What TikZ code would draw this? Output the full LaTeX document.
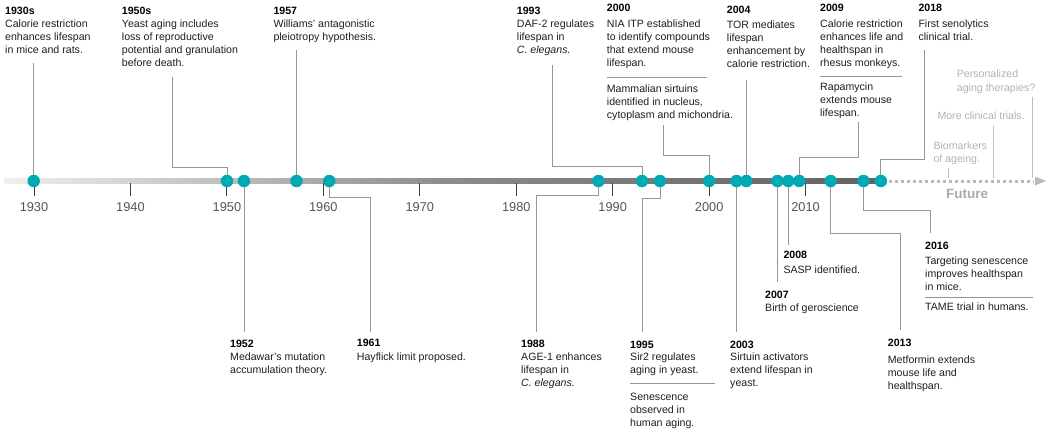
\documentclass[tikz,border=0pt]{standalone}
\usepackage{fontspec}
\setmainfont{Liberation Sans}
\definecolor{dotteal}{RGB}{0,170,181}
\definecolor{conngray}{RGB}{150,150,150}
\definecolor{futgray}{RGB}{178,178,178}
\definecolor{tickgray}{RGB}{85,85,85}
\definecolor{txtblack}{RGB}{30,30,30}
\begin{document}
\begin{tikzpicture}[x=1pt,y=-1pt,
  txt/.style={anchor=base west, inner sep=0pt, align=left, font=\fontsize{10.6}{13}\selectfont, text=txtblack},
  ttl/.style={txt, font=\fontsize{10.6}{13}\selectfont\bfseries, text=black},
  fut/.style={txt, text=futgray},
  conn/.style={draw=conngray, line width=0.9pt},
  fconn/.style={draw=futgray!85, line width=0.9pt},
  sepline/.style={draw=conngray, line width=0.8pt},
  dot/.style={circle, fill=dotteal, inner sep=0pt, minimum size=12.5pt},
  yl/.style={anchor=base, inner sep=0pt, font=\fontsize{12.8}{14}\selectfont, text=tickgray},
  tk/.style={draw=black!75, line width=1pt}
]
\useasboundingbox (0,0) rectangle (1050,431);

% axis
\shade[left color=black!6, right color=black!62, middle color=black!45] (4,178.8) rectangle (886,183.2);
\draw[futgray!90, line width=3pt, dash pattern=on 3pt off 3pt] (889,181) -- (1034,181);
\fill[futgray!90] (1035,176.5) -- (1046,181) -- (1035,185.5) -- cycle;

% ticks and years
\foreach \yr [count=\i from 0] in {1930,1940,1950,1960,1970,1980,1990,2000,2010} {
  \pgfmathsetmacro\xx{34+96.45*\i}
  \draw[tk] (\xx,183) -- (\xx,196);
  \node[yl] (y\yr) at (\xx,211.5) {\yr};
}

% dots
\node[dot] (d1930) at (33.7,181) {};
\node[dot] (d1950) at (227,181) {};
\node[dot] (d1952) at (244,181) {};
\node[dot] (d1957) at (296.5,181) {};
\node[dot] (d1961) at (329.3,181) {};
\node[dot] (d1988) at (598.5,181) {};
\node[dot] (d1993) at (642,181) {};
\node[dot] (d1995) at (660,181) {};
\node[dot] (d2000) at (709.2,181) {};
\node[dot] (d2003) at (736.5,181) {};
\node[dot] (d2004) at (746.3,181) {};
\node[dot] (d2007) at (777.5,181) {};
\node[dot] (d2008) at (788.2,181) {};
\node[dot] (d2009) at (799.2,181) {};
\node[dot] (d2013) at (830.7,181) {};
\node[dot] (d2016) at (863.5,181) {};
\node[dot] (d2018) at (880.8,181) {};

% ---------- top callouts (body nodes placed at the baseline of their last line) ----------
\node[ttl] (h1930) at (5,14) {1930s};
\node[txt] (x1930) at (5,53.3) {Calorie restriction\\enhances lifespan\\in mice and rats.};
\coordinate (t1930) at (33.7,63);
\draw[conn] (t1930) -- (d1930);

\node[ttl] (h1950) at (121.7,14) {1950s};
\node[txt] (x1950) at (121.7,66.3) {Yeast aging includes\\loss of reproductive\\potential and granulation\\before death.};
\coordinate (t1950) at (172.3,77);
\coordinate (b1950) at (227,167.5);
\draw[conn] (t1950) |- (b1950) -- (d1950);

\node[ttl] (h1957) at (273.3,14) {1957};
\node[txt] (x1957) at (273.3,40.3) {Williams' antagonistic\\pleiotropy hypothesis.};
\coordinate (t1957) at (296.5,49.5);
\draw[conn] (t1957) -- (d1957);

\node[ttl] (h1993) at (516.7,14) {1993};
\node[txt] (x1993) at (516.7,53.7) {DAF-2 regulates\\lifespan in\\\textit{C. elegans.}};
\coordinate (t1993) at (552.3,65);
\coordinate (b1993) at (642,166);
\draw[conn] (t1993) |- (b1993) -- (d1993);

\node[ttl] (h2000) at (606.7,11.5) {2000};
\node[txt] (x2000) at (606.7,66.7) {NIA ITP established\\to identify compounds\\that extend mouse\\lifespan.};
\draw[sepline] (606.7,77.3) -- (707.3,77.3);
\node[txt] (x2000b) at (606.7,118) {Mammalian sirtuins\\identified in nucleus,\\cytoplasm and michondria.};
\coordinate (t2000) at (663.3,125);
\coordinate (b2000) at (709.2,155);
\draw[conn] (t2000) |- (b2000) -- (d2000);

\node[ttl] (h2004) at (726.7,13.7) {2004};
\node[txt] (x2004) at (726.7,67.7) {TOR mediates\\lifespan\\enhancement by\\calorie restriction.};
\coordinate (t2004) at (746.3,80);
\draw[conn] (t2004) -- (d2004);

\node[ttl] (h2009) at (820,11) {2009};
\node[txt] (x2009) at (820,66.3) {Calorie restriction\\enhances life and\\healthspan in\\rhesus monkeys.};
\draw[sepline] (820,76) -- (902,76);
\node[txt] (x2009b) at (820,116) {Rapamycin\\extends mouse\\lifespan.};
\coordinate (t2009) at (858.3,121.7);
\coordinate (b2009) at (799.2,157.3);
\draw[conn] (t2009) |- (b2009) -- (d2009);

\node[ttl] (h2018) at (918.3,11) {2018};
\node[txt] (x2018) at (918.3,40.3) {First senolytics\\clinical trial.};
\coordinate (t2018) at (924.3,50);
\coordinate (b2018) at (880.8,159);
\draw[conn] (t2018) |- (b2018) -- (d2018);

% ---------- future ----------
\node[fut, font=\fontsize{10.6}{14}\selectfont] (f1) at (956.7,91) {Personalized\\aging therapies?};
\coordinate (tf1) at (1032.3,96.7);
\coordinate (af1) at (1032.3,178);
\draw[fconn] (tf1) -- (af1);
\node[fut] (f2) at (937.3,119) {More clinical trials.};
\coordinate (tf2) at (993.3,126);
\coordinate (af2) at (993.3,178);
\draw[fconn] (tf2) -- (af2);
\node[fut] (f3) at (933.3,162.7) {Biomarkers\\of ageing.};
\coordinate (tf3) at (948.3,168.3);
\coordinate (af3) at (948.3,178);
\draw[fconn] (tf3) -- (af3);
\node[anchor=base, inner sep=0pt, font=\fontsize{13.5}{15}\selectfont\bfseries, text=futgray!110] (future) at (967,198) {Future};

% ---------- bottom callouts ----------
\coordinate (e1952) at (244,332);
\draw[conn] (d1952) -- (e1952);
\node[ttl] (h1952) at (230,347) {1952};
\node[txt] (x1952) at (230,373.7) {Medawar's mutation\\accumulation theory.};

\coordinate (b1961) at (370,197);
\coordinate (e1961) at (370,332);
\draw[conn] (d1961) |- (b1961) -- (e1961);
\node[ttl] (h1961) at (356.7,346.5) {1961};
\node[txt] (x1961) at (356.7,360) {Hayflick limit proposed.};

\coordinate (b1988) at (536,195.5);
\coordinate (e1988) at (536,332);
\draw[conn] (d1988) |- (b1988) -- (e1988);
\node[ttl] (h1988) at (521,347) {1988};
\node[txt] (x1988) at (521,386.7) {AGE-1 enhances\\lifespan in\\\textit{C. elegans.}};

\coordinate (b1995) at (642.7,198);
\coordinate (e1995) at (642.7,332);
\draw[conn] (d1995) |- (b1995) -- (e1995);
\node[ttl] (h1995) at (630,348) {1995};
\node[txt] (x1995) at (630,373.7) {Sir2 regulates\\aging in yeast.};
\draw[sepline] (630,383.3) -- (715,383.3);
\node[txt] (x1995b) at (630,426) {Senescence\\observed in\\human aging.};

\coordinate (e2003) at (736.5,332);
\draw[conn] (d2003) -- (e2003);
\node[ttl] (h2003) at (730,348) {2003};
\node[txt] (x2003) at (730,386.7) {Sirtuin activators\\extend lifespan in\\yeast.};

\coordinate (e2007) at (777.5,282);
\draw[conn] (d2007) -- (e2007);
\node[ttl] (h2007) at (765,298.7) {2007};
\node[txt] (x2007) at (765,311.7) {Birth of geroscience};

\coordinate (e2008) at (788.2,245);
\draw[conn] (d2008) -- (e2008);
\node[ttl] (h2008) at (783.3,258.7) {2008};
\node[txt] (x2008) at (783.3,273.3) {SASP identified.};

\coordinate (b2013) at (900,233.3);
\coordinate (e2013) at (900,330);
\draw[conn] (d2013) |- (b2013) -- (e2013);
\node[ttl] (h2013) at (887.7,346.5) {2013};
\node[txt] (x2013) at (887.7,389) {Metformin extends\\mouse life and\\healthspan.};

\coordinate (b2016) at (930,210);
\coordinate (e2016) at (930,233.3);
\draw[conn] (d2016) |- (b2016) -- (e2016);
\node[ttl] (h2016) at (925,249.7) {2016};
\node[txt] (x2016) at (925,290) {Targeting senescence\\improves healthspan\\in mice.};
\draw[sepline] (925,297.3) -- (1033,297.3);
\node[txt] (x2016b) at (925,310.7) {TAME trial in humans.};
\end{tikzpicture}
\end{document}
